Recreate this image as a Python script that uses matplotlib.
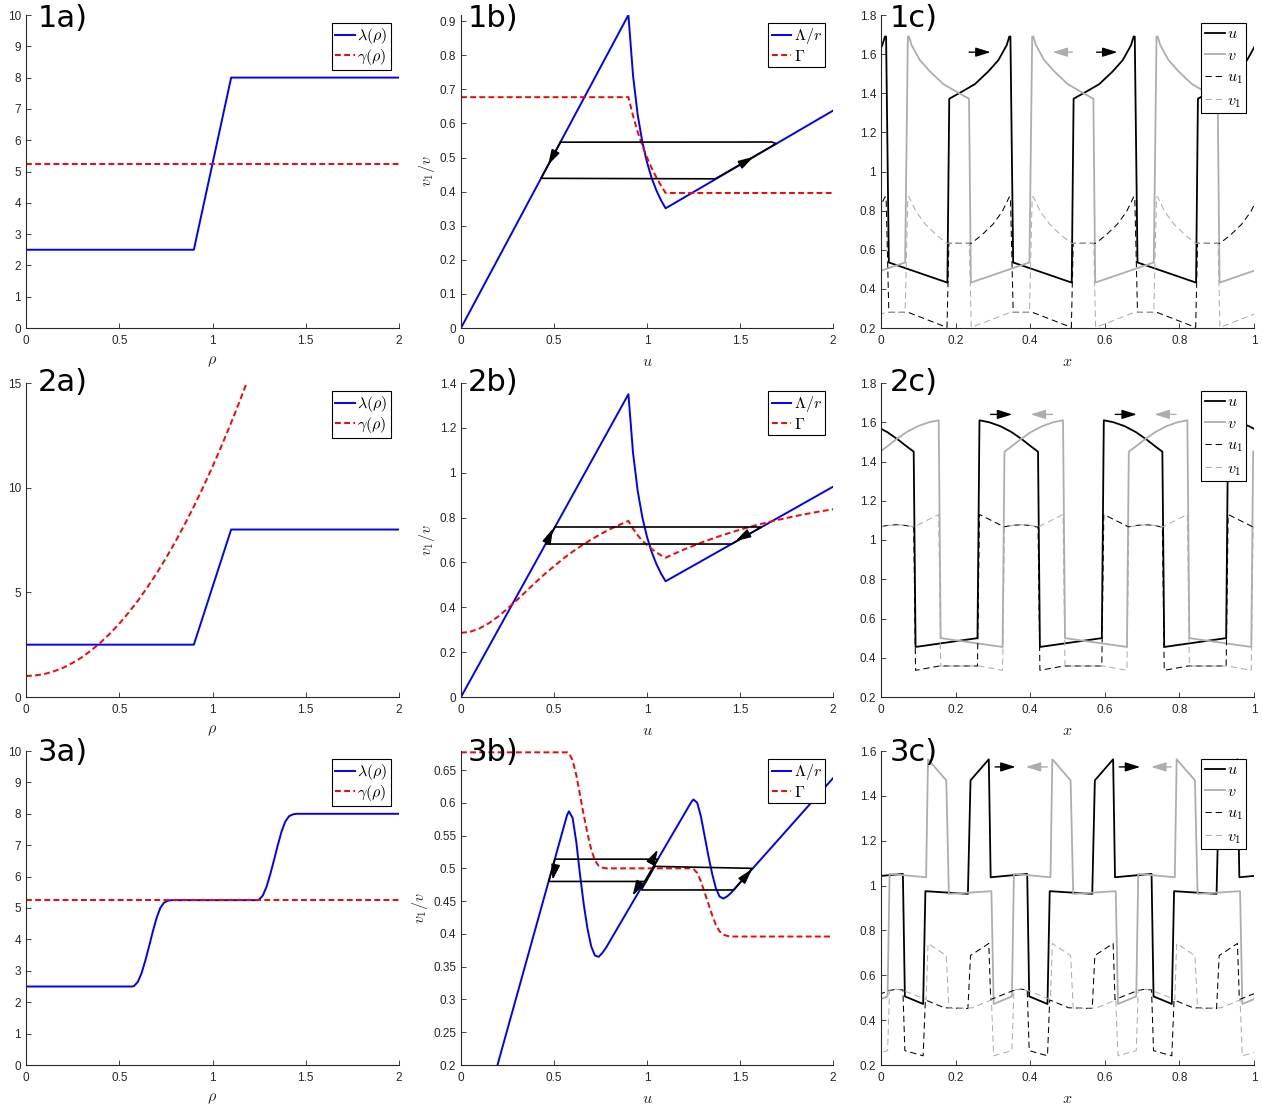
import numpy as np
import matplotlib
matplotlib.use('Agg')
import matplotlib.pyplot as plt
from matplotlib.lines import Line2D

plt.rcParams['mathtext.fontset'] = 'cm'
plt.rcParams['font.family'] = ['Liberation Sans', 'DejaVu Sans']
plt.rcParams['lines.scale_dashes'] = False

# ---------------- data: column a (lambda, gamma vs rho) ----------------
rho_1a = [0.0, 0.9, 1.1, 2.0]
lam_1a = [2.5, 2.5, 8.0, 8.0]
rho_g1a = [0.0, 2.0]
gam_1a = [5.25, 5.25]

rho_2a = [0.0, 0.9, 1.1, 2.0]
lam_2a = [2.5, 2.5, 8.0, 8.0]
rho_g2a = [0.0, 0.05, 0.1, 0.15, 0.2, 0.25, 0.3, 0.35, 0.4, 0.45, 0.5, 0.55, 0.6,
           0.65, 0.7, 0.75, 0.8, 0.85, 0.9, 0.95, 1.0, 1.05, 1.1, 1.15, 1.2]
gam_2a = [1.0, 1.03, 1.1, 1.23, 1.4, 1.63, 1.9, 2.23, 2.6, 3.03, 3.5, 4.03, 4.6,
          5.23, 5.9, 6.63, 7.4, 8.23, 9.1, 10.03, 11.0, 12.03, 13.1, 14.23, 15.4]

rho_3a = [0.0, 0.57, 0.58, 0.60, 0.62, 0.64, 0.66, 0.68, 0.70, 0.72, 0.74, 0.76, 0.78,
          1.24, 1.25, 1.27, 1.29, 1.31, 1.33, 1.35, 1.37, 1.39, 1.41, 1.43, 1.45, 2.0]
lam_3a = [2.5, 2.5, 2.52, 2.65, 2.93, 3.33, 3.78, 4.25, 4.68, 5.0, 5.17, 5.23, 5.25,
          5.25, 5.27, 5.4, 5.68, 6.08, 6.53, 7.0, 7.43, 7.75, 7.92, 7.98, 8.0, 8.0]
rho_g3a = [0.0, 2.0]
gam_3a = [5.25, 5.25]

# ---------------- data: column b (Lambda/r, Gamma vs u) ----------------
u_L1 = [0.0, 0.9, 0.925, 0.95, 0.975, 1.0, 1.025, 1.05, 1.075, 1.1, 2.0]
L_1b = [0.0, 0.918, 0.740, 0.625, 0.545, 0.486, 0.440, 0.404, 0.375, 0.351, 0.6375]
u_G1 = [0.0, 0.9, 0.925, 0.95, 0.975, 1.0, 1.025, 1.05, 1.075, 1.1, 2.0]
G_1b = [0.677, 0.677, 0.622, 0.575, 0.535, 0.500, 0.469, 0.442, 0.418, 0.396, 0.396]
loop_1b_u = [0.535, 0.43, 1.367, 1.67, 1.695, 1.67, 0.535]
loop_1b_v = [0.545, 0.439, 0.4375, 0.533, 0.541, 0.5455, 0.545]

u_L2 = [0.0, 0.9, 0.925, 0.95, 0.975, 1.0, 1.025, 1.05, 1.075, 1.1, 2.0]
L_2b = [0.0, 1.35, 1.088, 0.919, 0.801, 0.714, 0.647, 0.594, 0.551, 0.516, 0.9375]
u_G2 = [0.0, 0.05, 0.1, 0.15, 0.2, 0.25, 0.3, 0.35, 0.4, 0.45, 0.5, 0.55, 0.6, 0.65,
        0.7, 0.75, 0.8, 0.85, 0.9, 0.925, 0.95, 0.975, 1.0, 1.025, 1.05, 1.075, 1.1,
        1.15, 1.2, 1.3, 1.4, 1.5, 1.6, 1.7, 1.8, 1.9, 2.0]
G_2b = [0.286, 0.291, 0.306, 0.329, 0.359, 0.394, 0.432, 0.471, 0.510, 0.548, 0.583,
        0.617, 0.648, 0.676, 0.702, 0.726, 0.748, 0.767, 0.785, 0.750, 0.721, 0.697,
        0.677, 0.660, 0.645, 0.632, 0.621, 0.640, 0.658, 0.691, 0.720, 0.746, 0.769,
        0.789, 0.807, 0.823, 0.837]
loop_2b_u = [0.505, 0.455, 1.455, 1.615, 0.505]
loop_2b_v = [0.758, 0.682, 0.682, 0.758, 0.758]

u_L3 = [0.0, 0.57, 0.58, 0.60, 0.62, 0.64, 0.66, 0.68, 0.70, 0.72, 0.74, 0.76, 0.78,
        1.24, 1.25, 1.27, 1.29, 1.31, 1.33, 1.35, 1.37, 1.39, 1.41, 1.43, 1.45, 2.0]
L_3b = [0.0, 0.581, 0.587, 0.577, 0.540, 0.490, 0.445, 0.408, 0.381, 0.367, 0.365,
        0.371, 0.379, 0.602, 0.605, 0.600, 0.579, 0.549, 0.519, 0.492, 0.470, 0.457,
        0.454, 0.457, 0.462, 0.6375]
G_3b = [0.677, 0.677, 0.676, 0.665, 0.642, 0.612, 0.581, 0.553, 0.529, 0.512, 0.504,
        0.501, 0.500, 0.500, 0.499, 0.493, 0.480, 0.463, 0.446, 0.429, 0.414, 0.404,
        0.399, 0.397, 0.396, 0.396]
loopA_3b_u = [0.505, 0.472, 0.988, 1.059, 0.505]
loopA_3b_v = [0.514, 0.480, 0.480, 0.514, 0.514]
loopB_3b_u = [1.042, 1.566, 1.466, 0.970, 1.042]
loopB_3b_v = [0.503, 0.500, 0.467, 0.467, 0.503]

# arrows (tail -> tip) in b panels
arr_1b = [((0.50, 0.51), (0.468, 0.478)), ((1.52, 0.485), (1.573, 0.502))]
arr_2b = [((0.465, 0.697), (0.495, 0.752)), ((1.53, 0.721), (1.475, 0.695))]
arr_3b = [((0.505, 0.50), (0.492, 0.482)), ((1.03, 0.514), (1.059, 0.529)),
          ((0.95, 0.472), (0.922, 0.458)), ((1.51, 0.481), (1.565, 0.499))]

# ---------------- data: column c (one period of each profile) ----------------
period_c = 1.0 / 3.0
shifts_c = [-1, 0, 1, 2, 3]

u_1c_x = [0.021, 0.178, 0.183, 0.216, 0.252, 0.288, 0.315, 0.337, 0.344, 0.347]
u_1c_y = [0.535, 0.432, 1.372, 1.407, 1.447, 1.512, 1.570, 1.646, 1.690, 1.690]
v_1c_x = [0.072, 0.075, 0.082, 0.104, 0.131, 0.167, 0.203, 0.236, 0.241, 0.398]
v_1c_y = [1.690, 1.690, 1.646, 1.570, 1.512, 1.447, 1.407, 1.372, 0.432, 0.535]
u1_1c_x = [0.021, 0.073, 0.177, 0.182, 0.242, 0.27, 0.30, 0.325, 0.344, 0.347]
u1_1c_y = [0.28, 0.28, 0.203, 0.633, 0.633, 0.675, 0.73, 0.795, 0.87, 0.87]
v1_1c_x = [0.072, 0.075, 0.094, 0.119, 0.149, 0.177, 0.237, 0.242, 0.346, 0.398]
v1_1c_y = [0.87, 0.87, 0.795, 0.73, 0.675, 0.633, 0.633, 0.203, 0.28, 0.28]

u_2c_x = [0.264, 0.29, 0.32, 0.35, 0.38, 0.40, 0.421, 0.426, 0.592]
u_2c_y = [1.61, 1.60, 1.58, 1.55, 1.51, 1.48, 1.45, 0.455, 0.50]
v_2c_x = [0.160, 0.326, 0.331, 0.352, 0.372, 0.402, 0.432, 0.462, 0.488]
v_2c_y = [0.50, 0.455, 1.45, 1.48, 1.51, 1.55, 1.58, 1.60, 1.61]
u1_2c_x = [0.264, 0.330, 0.35, 0.375, 0.40, 0.421, 0.426, 0.49, 0.592]
u1_2c_y = [1.13, 1.067, 1.074, 1.078, 1.074, 1.065, 0.336, 0.358, 0.358]
v1_2c_x = [0.160, 0.262, 0.326, 0.331, 0.352, 0.377, 0.402, 0.422, 0.488]
v1_2c_y = [0.358, 0.358, 0.336, 1.065, 1.074, 1.078, 1.074, 1.067, 1.13]

u_3c_x = [0.064, 0.113, 0.119, 0.233, 0.240, 0.289, 0.294, 0.392]
u_3c_y = [0.506, 0.472, 0.975, 0.963, 1.469, 1.563, 1.037, 1.052]
v_3c_x = [0.023, 0.121, 0.126, 0.175, 0.182, 0.296, 0.302, 0.351]
v_3c_y = [1.052, 1.037, 1.563, 1.469, 0.963, 0.975, 0.472, 0.506]
u1_3c_x = [0.064, 0.113, 0.119, 0.17, 0.233, 0.240, 0.289, 0.294, 0.355, 0.375, 0.392]
u1_3c_y = [0.264, 0.241, 0.49, 0.455, 0.452, 0.688, 0.742, 0.492, 0.532, 0.538, 0.535]
v1_3c_x = [0.023, 0.040, 0.060, 0.121, 0.126, 0.175, 0.182, 0.245, 0.296, 0.302, 0.351]
v1_3c_y = [0.535, 0.538, 0.532, 0.492, 0.742, 0.688, 0.452, 0.455, 0.49, 0.241, 0.264]

# arrows in c panels: (x_tail, x_tip, y, colour key)
arr_1c = [(0.236, 0.294, 1.61, 'k'), (0.513, 0.460, 1.61, 'g'), (0.578, 0.634, 1.61, 'k')]
arr_2c = [(0.294, 0.352, 1.64, 'k'), (0.460, 0.401, 1.64, 'g'),
          (0.628, 0.686, 1.64, 'k'), (0.791, 0.733, 1.64, 'g')]
arr_3c = [(0.306, 0.361, 1.529, 'k'), (0.446, 0.388, 1.529, 'g'),
          (0.639, 0.695, 1.529, 'k'), (0.778, 0.724, 1.529, 'g')]

# ticks
xt_ab = [0, 0.5, 1, 1.5, 2]
xtl_ab = ['0', '0.5', '1', '1.5', '2']
yt_1a = list(range(0, 11))
ytl_1a = [str(v) for v in yt_1a]
yt_2a = [0, 5, 10, 15]
ytl_2a = ['0', '5', '10', '15']
yt_1b = [0, 0.1, 0.2, 0.3, 0.4, 0.5, 0.6, 0.7, 0.8, 0.9]
ytl_1b = ['0', '0.1', '0.2', '0.3', '0.4', '0.5', '0.6', '0.7', '0.8', '0.9']
yt_2b = [0, 0.2, 0.4, 0.6, 0.8, 1.0, 1.2, 1.4]
ytl_2b = ['0', '0.2', '0.4', '0.6', '0.8', '1', '1.2', '1.4']
yt_3b = [0.2, 0.25, 0.3, 0.35, 0.4, 0.45, 0.5, 0.55, 0.6, 0.65]
ytl_3b = ['0.2', '0.25', '0.3', '0.35', '0.4', '0.45', '0.5', '0.55', '0.6', '0.65']
xt_c = [0, 0.2, 0.4, 0.6, 0.8, 1]
xtl_c = ['0', '0.2', '0.4', '0.6', '0.8', '1']
yt_c18 = [0.2, 0.4, 0.6, 0.8, 1.0, 1.2, 1.4, 1.6, 1.8]
ytl_c18 = ['0.2', '0.4', '0.6', '0.8', '1', '1.2', '1.4', '1.6', '1.8']
yt_c16 = [0.2, 0.4, 0.6, 0.8, 1.0, 1.2, 1.4, 1.6]
ytl_c16 = ['0.2', '0.4', '0.6', '0.8', '1', '1.2', '1.4', '1.6']

# ---------------- figure ----------------
W, H = 1263, 1105
fig = plt.figure(figsize=(W / 100, H / 100), dpi=100)
AXC = (0.15, 0.15, 0.15)
BLUE = (0, 0, 1)
RED = (1, 0, 0)
GRAY = (0.68, 0.68, 0.68)

cols = [(26, 399), (461, 833), (881, 1254)]
rows = [(15, 328), (383, 697), (751, 1065)]


def make_ax(c, r):
    l, rr = cols[c]
    t, b = rows[r]
    return fig.add_axes([l / W, 1 - b / H, (rr - l) / W, (b - t) / H])


def style(ax, xlim, ylim, xt, xtl, yt, ytl, xlabel, ylabel=None):
    ax.set_xlim(xlim)
    ax.set_ylim(ylim)
    ax.set_xticks(xt)
    ax.set_xticklabels(xtl)
    ax.set_yticks(yt)
    ax.set_yticklabels(ytl)
    for s in ['top', 'right']:
        ax.spines[s].set_visible(False)
    for s in ['left', 'bottom']:
        ax.spines[s].set_color(AXC)
        ax.spines[s].set_linewidth(0.8)
    ax.tick_params(direction='in', length=3.5, width=0.6, colors=AXC,
                   labelsize=8.5, pad=3.5)
    ax.tick_params(axis='x', pad=5)
    ax.set_xlabel(xlabel, fontsize=11.5, color=AXC, labelpad=5)
    if ylabel:
        ax.set_ylabel(ylabel, fontsize=11.5, color=AXC, labelpad=2)


def legend(ax, handles, labels, spacing):
    ax_w = ax.get_position().width * W
    ax_h = ax.get_position().height * H
    leg = ax.legend(handles, labels, loc='upper right',
                    bbox_to_anchor=(1 - 8 / ax_w, 1 - 8 / ax_h),
                    fontsize=11.5, frameon=True, fancybox=False, edgecolor='k',
                    framealpha=1, borderpad=0.2, labelspacing=spacing,
                    handlelength=1.25, handletextpad=0.15, borderaxespad=0)
    leg.get_frame().set_linewidth(0.8)
    return leg


def tile(xb, yb):
    xs = np.concatenate([np.asarray(xb) + k * period_c for k in shifts_c])
    ys = np.concatenate([np.asarray(yb) for k in shifts_c])
    return xs, ys


def panel_label(text, xpx, baseline_px):
    fig.text(xpx / W, 1 - baseline_px / H, text, fontsize=22,
             family='DejaVu Sans', ha='left', va='baseline', color='k')


dash_red = (4.2, 2.4)
dash_thin = (4.5, 2.8)
arrow_b = '-|>,head_length=0.9,head_width=0.26'
arrow_c = '-|>,head_length=0.9,head_width=0.28'

# ----- column a -----
a_data = [(rho_1a, lam_1a, rho_g1a, gam_1a, (0, 10), yt_1a, ytl_1a),
          (rho_2a, lam_2a, rho_g2a, gam_2a, (0, 15), yt_2a, ytl_2a),
          (rho_3a, lam_3a, rho_g3a, gam_3a, (0, 10), yt_1a, ytl_1a)]
for r, (xr, yl, xg, yg, ylim, yt, ytl) in enumerate(a_data):
    ax = make_ax(0, r)
    l1, = ax.plot(xr, yl, color=BLUE, lw=1.4)
    l2, = ax.plot(xg, yg, color=RED, lw=1.4, ls=(0, dash_red))
    style(ax, (0, 2), ylim, xt_ab, xtl_ab, yt, ytl, r'$\rho$')
    legend(ax, [l1, l2], [r'$\lambda(\rho)$', r'$\gamma(\rho)$'], 0.05)

# ----- column b -----
b_data = [(u_L1, L_1b, u_G1, G_1b, (0, 0.918), yt_1b, ytl_1b,
           [(loop_1b_u, loop_1b_v)], arr_1b),
          (u_L2, L_2b, u_G2, G_2b, (0, 1.4), yt_2b, ytl_2b,
           [(loop_2b_u, loop_2b_v)], arr_2b),
          (u_L3, L_3b, u_L3, G_3b, (0.2, 0.679), yt_3b, ytl_3b,
           [(loopA_3b_u, loopA_3b_v), (loopB_3b_u, loopB_3b_v)], arr_3b)]
for r, (xu, yL, xg, yG, ylim, yt, ytl, loops, arrs) in enumerate(b_data):
    ax = make_ax(1, r)
    l1, = ax.plot(xu, yL, color=BLUE, lw=1.4)
    l2, = ax.plot(xg, yG, color=RED, lw=1.4, ls=(0, dash_red))
    for lu, lv in loops:
        ax.plot(lu, lv, color='k', lw=1.2, solid_joinstyle='round')
    for tail, tip in arrs:
        ax.annotate('', xy=tip, xytext=tail,
                    arrowprops=dict(arrowstyle=arrow_b, color='k', lw=1.2,
                                    shrinkA=0, shrinkB=0, mutation_scale=10))
    style(ax, (0, 2), ylim, xt_ab, xtl_ab, yt, ytl, r'$u$', r'$v_1/v$')
    legend(ax, [l1, l2], [r'$\Lambda/r$', r'$\Gamma$'], 0.15)

# ----- column c -----
c_data = [((u_1c_x, u_1c_y), (v_1c_x, v_1c_y), (u1_1c_x, u1_1c_y), (v1_1c_x, v1_1c_y),
           (0.2, 1.8), yt_c18, ytl_c18, arr_1c),
          ((u_2c_x, u_2c_y), (v_2c_x, v_2c_y), (u1_2c_x, u1_2c_y), (v1_2c_x, v1_2c_y),
           (0.2, 1.8), yt_c18, ytl_c18, arr_2c),
          ((u_3c_x, u_3c_y), (v_3c_x, v_3c_y), (u1_3c_x, u1_3c_y), (v1_3c_x, v1_3c_y),
           (0.2, 1.6), yt_c16, ytl_c16, arr_3c)]
for r, (su, sv, su1, sv1, ylim, yt, ytl, arrs) in enumerate(c_data):
    ax = make_ax(2, r)
    h1, = ax.plot(*tile(*su), color='k', lw=1.3)
    h2, = ax.plot(*tile(*sv), color=GRAY, lw=1.3)
    h3, = ax.plot(*tile(*su1), color='k', lw=0.75, ls=(0, dash_thin))
    h4, = ax.plot(*tile(*sv1), color=GRAY, lw=0.75, ls=(0, dash_thin))
    for xa, xb, ya, ck in arrs:
        col = 'k' if ck == 'k' else GRAY
        ax.annotate('', xy=(xb, ya), xytext=(xa, ya),
                    arrowprops=dict(arrowstyle=arrow_c, color=col, lw=1.0,
                                    shrinkA=0, shrinkB=0, mutation_scale=10))
    style(ax, (0, 1), ylim, xt_c, xtl_c, yt, ytl, r'$x$')
    legend(ax, [h1, h2, h3, h4], [r'$u$', r'$v$', r'$u_1$', r'$v_1$'], 0.42)

# panel labels
labels = [['1a)', '1b)', '1c)'], ['2a)', '2b)', '2c)'], ['3a)', '3b)', '3c)']]
label_x = [38, 468, 890]
label_base = [27, 391, 761]
for r in range(3):
    for c in range(3):
        panel_label(labels[r][c], label_x[c], label_base[r])

fig.savefig('out.png', dpi=100, facecolor='white')
